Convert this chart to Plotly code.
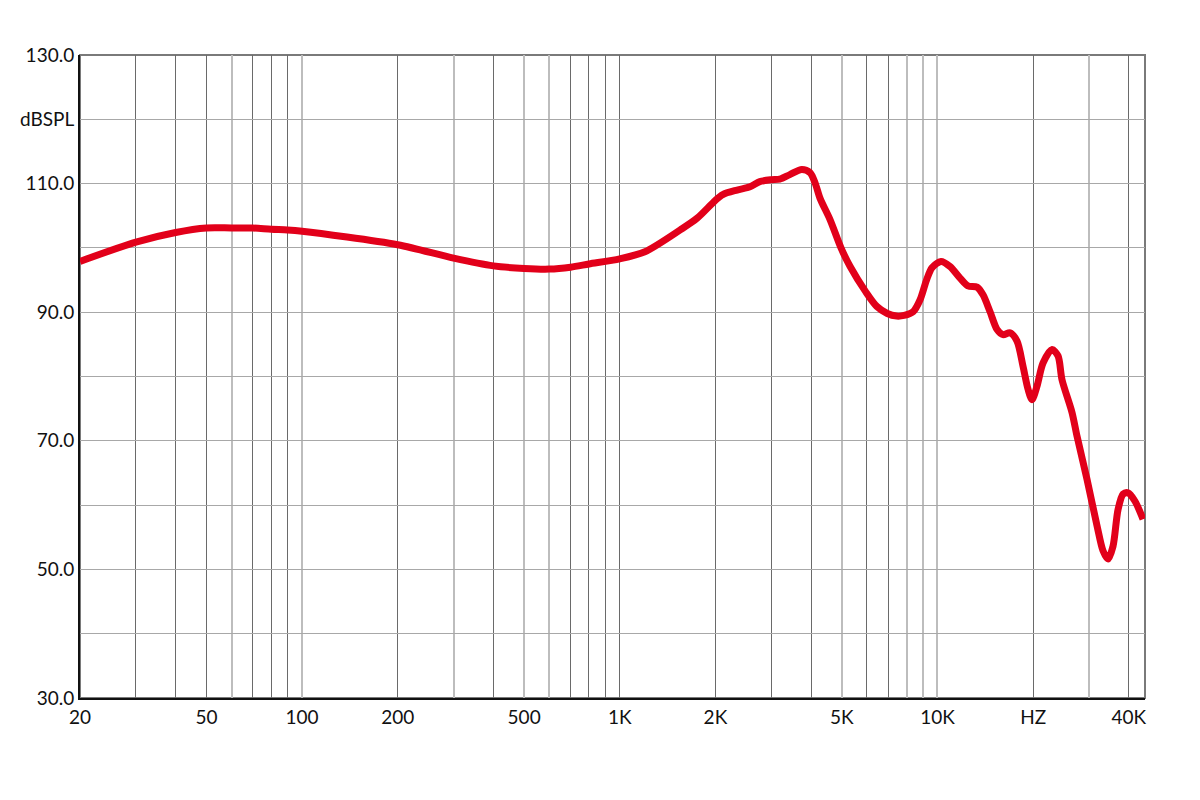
import math
import plotly.graph_objects as go

# frequency response
freq_hz = [20, 30, 40, 50, 60, 70, 80, 90, 100, 200, 300, 400, 500, 600, 700, 800,
           1000, 1200, 1550, 1750, 2000, 2110, 2340, 2570, 2760, 3000, 3190, 3430,
           3740, 3970, 4120, 4270, 4590, 4970, 5310, 5940, 6440, 6950, 7440, 7850,
           8390, 8810, 9250, 9610, 10260, 10950, 11780, 12470, 13320, 13910, 14630,
           15400, 16080, 16920, 17800, 18590, 19280, 19840, 20570, 21490, 22940,
           23960, 24660, 26520, 27500, 29560, 31780, 33190, 34420, 35690, 37010,
           38380, 39800, 41860, 44360]
spl_db = [97.9, 100.9, 102.4, 103.1, 103.1, 103.1, 102.9, 102.8, 102.6, 100.5, 98.4,
          97.2, 96.8, 96.7, 97.0, 97.5, 98.3, 99.4, 102.8, 104.6, 107.4, 108.3, 109.0,
          109.5, 110.3, 110.6, 110.7, 111.4, 112.2, 111.7, 110.1, 107.7, 104.4, 100.0,
          97.1, 93.2, 90.9, 89.8, 89.4, 89.5, 90.1, 91.9, 95.1, 96.9, 97.9, 97.1, 95.3,
          94.1, 93.9, 92.7, 90.1, 87.3, 86.5, 86.8, 85.5, 81.6, 78.0, 76.4, 78.5, 82.1,
          84.2, 83.2, 79.5, 74.4, 70.7, 64.0, 56.8, 52.9, 51.6, 53.6, 59.3, 61.7, 61.9,
          60.6, 57.8]

# grid lines (dark and light ones as drawn in the source)
dark_grid = [30, 40, 50, 70, 80, 90, 200, 400, 700, 800, 900, 1000, 2000, 3000,
             4000, 6000, 7000, 20000, 40000]
light_grid = [60, 100, 300, 500, 600, 5000, 8000, 9000, 10000, 30000]

x_tick_vals = [20, 50, 100, 200, 500, 1000, 2000, 5000, 10000, 20000, 40000]
x_tick_text = ["20", "50", "100", "200", "500", "1K", "2K", "5K", "10K", "HZ", "40K"]

y_tick_vals = [30, 40, 50, 60, 70, 80, 90, 100, 110, 120, 130]
y_tick_text = ["30.0", "", "50.0", "", "70.0", "", "90.0", "", "110.0", "dBSPL", "130.0"]

x_range = [math.log10(20), math.log10(45000)]
font = dict(family="Lato, Noto Sans, sans-serif", size=19, color="#111111")

fig = go.Figure()
fig.add_trace(go.Scatter(
    x=freq_hz, y=spl_db, mode="lines",
    line=dict(color="#e2001a", width=7, shape="spline", smoothing=0.8),
    showlegend=False, hoverinfo="skip",
))
# invisible copy so the labelled overlay axis gets drawn
fig.add_trace(go.Scatter(
    x=freq_hz, y=spl_db, xaxis="x2", mode="lines", opacity=0,
    line=dict(width=0), showlegend=False, hoverinfo="skip",
))

# the page body adds an 8px offset, so margins are shifted to compensate
fig.update_layout(
    width=1200, height=800,
    margin=dict(l=72, r=63, t=47, b=110, autoexpand=False),
    paper_bgcolor="white", plot_bgcolor="white",
    font=font,
    xaxis=dict(
        type="log", range=x_range, automargin=False,
        tickmode="array", tickvals=dark_grid, showticklabels=False,
        showgrid=True, gridcolor="#6a6a6a", gridwidth=1,
        minor=dict(tickmode="array", tickvals=light_grid, showgrid=True,
                   gridcolor="#bdbdbd", gridwidth=2),
        showline=True, linecolor="#111", linewidth=2, ticks="", zeroline=False,
    ),
    xaxis2=dict(
        type="log", range=x_range, overlaying="x", anchor="y", side="bottom",
        automargin=False,
        tickmode="array", tickvals=x_tick_vals, ticktext=x_tick_text,
        showgrid=False, ticks="", ticklabelstandoff=6, tickfont=font,
    ),
    yaxis=dict(
        range=[30, 130], tickmode="array", tickvals=y_tick_vals, ticktext=y_tick_text,
        automargin=False,
        showgrid=True, gridcolor="#a8a8a8", gridwidth=1,
        showline=True, linecolor="#111", linewidth=2, ticks="",
        ticklabelstandoff=0, zeroline=False,
    ),
    shapes=[dict(type="rect", xref="paper", yref="paper", x0=0, y0=0, x1=1, y1=1,
                 line=dict(color="#7a7a7a", width=2), layer="below")],
)

fig.write_html("out.html")
